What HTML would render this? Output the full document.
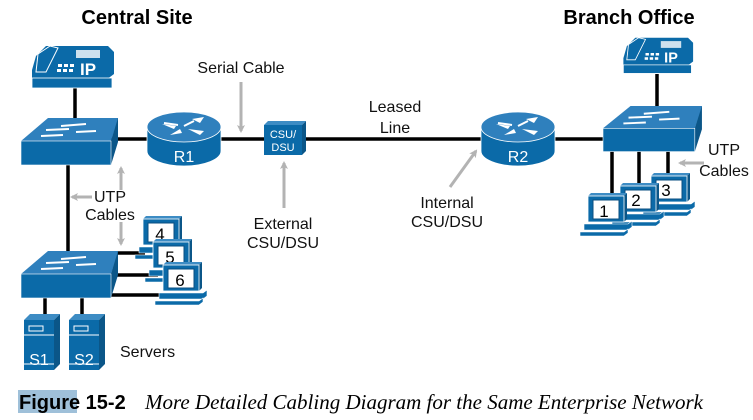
<!DOCTYPE html>
<html><head><meta charset="utf-8"><style>
html,body{margin:0;padding:0;background:#fff;}
svg{display:block;}
text{font-family:"Liberation Sans",sans-serif;}
</style></head><body>
<svg width="753" height="420" viewBox="0 0 753 420" xmlns="http://www.w3.org/2000/svg">
<defs>
<marker id="ah" markerWidth="8" markerHeight="8" refX="6" refY="4" orient="auto" markerUnits="userSpaceOnUse">
<path d="M0,0 L8,4 L0,8 L2,4 Z" fill="#b3b3b3"/></marker>
<g id="pc">
<path d="M3,-3 L39,-3 L36,0 L0,0 Z" fill="#3d8cc4"/>
<path d="M36,0 L39,-3 L39,23 L36,26 Z" fill="#0b5688"/>
<rect x="0" y="0" width="36" height="26" fill="#0b6aa8" stroke="#fff" stroke-width="0.8"/>
<rect x="5" y="4" width="26" height="19" fill="#fff" stroke="#0b4f80" stroke-width="1"/>
<path d="M-4,28 L40,28 L44,25 L44,31 L40,34 L-4,34 Z" fill="#0b6aa8" stroke="#fff" stroke-width="0.6"/>
<path d="M-8,36 L36,36 L40,33 L40,37 L36,40 L-8,40 Z" fill="#0b6aa8" stroke="#fff" stroke-width="0.6"/>
</g>
<g id="phone">
<path d="M8,12 L18,2 L80,2 L86,8 L86,30 L78,36 L4,36 L4,26 Z" fill="#0b6aa8"/>
<rect x="4" y="34" width="80" height="10" fill="#0b6aa8" stroke="#fff" stroke-width="0.8"/>
<path d="M10,10 L22,2 L30,4 L18,28 L8,28 Z" fill="#0b6aa8" stroke="#fff" stroke-width="1"/>
<rect x="48" y="6" width="24" height="8" fill="#fff" opacity="0.8"/>
<g fill="#fff"><rect x="30" y="20" width="4" height="3"/><rect x="36" y="20" width="4" height="3"/><rect x="42" y="20" width="4" height="3"/><rect x="29" y="25" width="4" height="3"/><rect x="35" y="25" width="4" height="3"/><rect x="41" y="25" width="4" height="3"/></g>
<text x="52" y="31" fill="#fff" font-size="17" font-weight="bold">IP</text>
</g>
<g id="router">
<path d="M-37,0 L-37,24 A37,15 0 0 0 37,24 L37,0 Z" fill="#0b6aa8" stroke="#fff" stroke-width="0.8"/>
<ellipse cx="0" cy="0" rx="37" ry="15" fill="#2f80bd" stroke="#fff" stroke-width="0.8"/>
<g fill="#fff"><path d="M-22,-3 L-8,-1 L-10,2 Z M-14,8 L-4,2 L-2,6 Z M8,-8 L20,-10 L16,-4 Z M4,2 L20,4 L16,8 Z"/>
<path d="M-20,-4 L-6,-2 M10,-6 L0,-1" stroke="#fff" stroke-width="2"/></g>
</g>
<g id="server">
<path d="M0,6 L6,0 L36,0 L30,6 Z" fill="#3d8cc4"/>
<path d="M30,6 L36,0 L36,50 L30,56 Z" fill="#0b5688"/>
<rect x="0" y="6" width="30" height="50" fill="#0b6aa8"/>
<rect x="5" y="12" width="14" height="5" fill="none" stroke="#fff" stroke-width="1"/>
<line x1="0" y1="21" x2="30" y2="21" stroke="#fff" stroke-width="1"/>
<line x1="0" y1="50" x2="30" y2="50" stroke="#fff" stroke-width="1"/>
</g>
<g id="sw">
<path d="M0,23 L27,0 L97,0 L97,2 L90,23 Z" fill="#2f80bd"/>
<path d="M90,23 L97,0 L97,24 L90,47 Z" fill="#0b5688"/>
<rect x="0" y="23" width="90" height="24" fill="#0b6aa8" stroke="#fff" stroke-width="0.6"/>
<g stroke="#fff" stroke-width="2" fill="#fff">
<line x1="40" y1="8" x2="65" y2="6"/><line x1="25" y1="12" x2="48" y2="11"/>
<line x1="55" y1="14" x2="75" y2="13"/><line x1="20" y1="18" x2="42" y2="17"/>
</g>
</g>
</defs>

<text x="137" y="24" font-size="20" font-weight="bold" text-anchor="middle">Central Site</text>
<text x="629" y="24" font-size="20" font-weight="bold" text-anchor="middle">Branch Office</text>

<g stroke="#000" stroke-width="3.5" fill="none">
<line x1="75" y1="88" x2="75" y2="118"/>
<line x1="110" y1="139" x2="150" y2="139"/>
<line x1="215" y1="139" x2="265" y2="139"/>
<line x1="303" y1="139" x2="485" y2="139"/>
<line x1="550" y1="139" x2="605" y2="139"/>
<line x1="657" y1="74" x2="657" y2="108"/>
<line x1="612" y1="150" x2="612" y2="196"/>
<line x1="639" y1="150" x2="639" y2="186"/>
<line x1="668" y1="150" x2="668" y2="176"/>
<line x1="68" y1="164" x2="68" y2="253"/>
<line x1="110" y1="253" x2="145" y2="253"/>
<line x1="110" y1="275" x2="158" y2="275"/>
<line x1="96" y1="295" x2="165" y2="295"/>
<line x1="45" y1="297" x2="45" y2="318"/>
<line x1="82" y1="297" x2="82" y2="318"/>
</g>

<use href="#phone" x="28" y="44"/>
<use href="#phone" x="620" y="36" transform="translate(620,36) scale(0.85) translate(-620,-36)"/>
<use href="#sw" x="21" y="118"/>
<use href="#sw" x="21" y="251"/>
<g transform="translate(603,106) scale(1.02,0.97)"><use href="#sw"/></g>

<use href="#router" x="184" y="127"/>
<text x="184" y="162" fill="#fff" font-size="16" text-anchor="middle">R1</text>
<use href="#router" x="518" y="127"/>
<text x="518" y="162" fill="#fff" font-size="16" text-anchor="middle">R2</text>

<path d="M264,125 L268,121 L306,121 L302,125 Z" fill="#3d8cc4"/>
<path d="M302,125 L306,121 L306,151 L302,155 Z" fill="#0b5688"/>
<rect x="264" y="125" width="38" height="30" fill="#0b6aa8"/>
<text x="283" y="138" fill="#fff" font-size="11" text-anchor="middle">CSU/</text>
<text x="283" y="151" fill="#fff" font-size="11" text-anchor="middle">DSU</text>

<g font-size="17">
<use href="#pc" x="143" y="219"/>
<text x="160" y="240" text-anchor="middle">4</text>
<use href="#pc" x="153" y="242"/>
<text x="170" y="263" text-anchor="middle">5</text>
<use href="#pc" x="163" y="265"/>
<text x="180" y="286" text-anchor="middle">6</text>

<use href="#pc" x="651" y="176"/>
<text x="666" y="196" text-anchor="middle">3</text>
<use href="#pc" x="620" y="186"/>
<text x="636" y="206" text-anchor="middle">2</text>
<use href="#pc" x="588" y="196"/>
<text x="604" y="217" text-anchor="middle">1</text>
</g>

<use href="#server" x="24" y="314"/>
<text x="39" y="365" fill="#fff" font-size="16" text-anchor="middle">S1</text>
<use href="#server" x="69" y="314"/>
<text x="84" y="365" fill="#fff" font-size="16" text-anchor="middle">S2</text>

<g stroke="#b3b3b3" stroke-width="3" marker-end="url(#ah)">
<line x1="241" y1="82" x2="241" y2="131"/>
<line x1="284" y1="208" x2="284" y2="163"/>
<line x1="450" y1="187" x2="476" y2="151"/>
<line x1="704" y1="163" x2="680" y2="163"/>
<line x1="121" y1="190" x2="121" y2="168"/>
<line x1="121" y1="222" x2="121" y2="244"/>
<line x1="92" y1="197" x2="72" y2="197"/>
</g>

<g font-size="16" fill="#111">
<text x="241" y="73" text-anchor="middle">Serial Cable</text>
<text x="395" y="112" text-anchor="middle">Leased</text>
<text x="395" y="133" text-anchor="middle">Line</text>
<text x="283" y="229" text-anchor="middle">External</text>
<text x="283" y="248" text-anchor="middle">CSU/DSU</text>
<text x="447" y="208" text-anchor="middle">Internal</text>
<text x="447" y="227" text-anchor="middle">CSU/DSU</text>
<text x="724" y="155" text-anchor="middle">UTP</text>
<text x="724" y="176" text-anchor="middle">Cables</text>
<text x="110" y="202" text-anchor="middle">UTP</text>
<text x="110" y="220" text-anchor="middle">Cables</text>
<text x="120" y="357">Servers</text>
</g>

<rect x="18" y="390" width="59" height="23" fill="#9fc0d9"/>
<text x="19" y="409" font-size="20" font-weight="bold">Figure 15-2</text>
<text x="145" y="409" font-size="21" font-style="italic" style="font-family:'Liberation Serif',serif">More Detailed Cabling Diagram for the Same Enterprise Network</text>
</svg>
</body></html>
